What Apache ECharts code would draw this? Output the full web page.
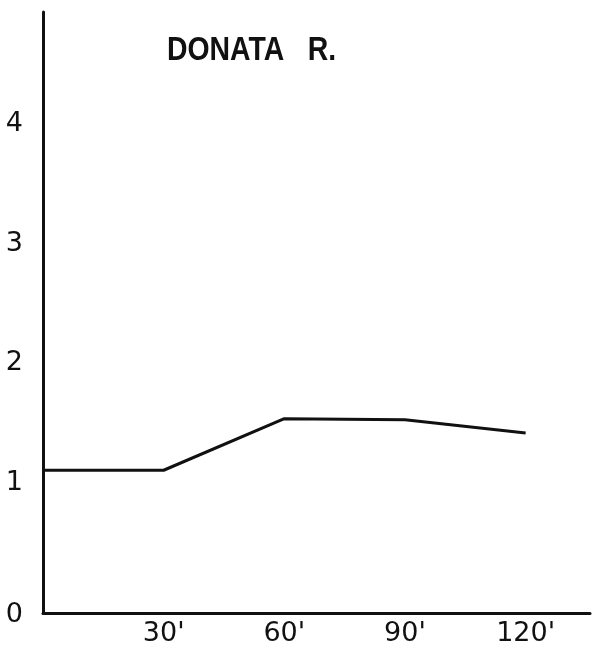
<!DOCTYPE html>
<html>
<head>
<meta charset="utf-8">
<script src="https://cdn.jsdelivr.net/npm/echarts@6/dist/echarts.min.js"></script>
<style>
  html, body { margin: 0; padding: 0; background: #fff; }
  #chart { width: 595px; height: 653px; }
</style>
</head>
<body>
<div id="chart"></div>
<script>
// time in minutes
const minutes = [0, 30, 60, 90, 120]
const values = [1.11, 1.11, 1.54, 1.53, 1.42]
const xTicks = [30, 60, 90, 120]
const yTicks = [0, 1, 2, 3, 4]

const chart = echarts.init(document.getElementById('chart'), null, { renderer: 'canvas' })

const ink = '#111'
const labelFont = 'DejaVu Sans, sans-serif'

chart.setOption({
  animation: false,
  backgroundColor: '#fff',
  graphic: [{
    type: 'text',
    x: 167,
    y: 34,
    scaleX: 0.86,
    style: {
      text: 'DONATA   R.',
      fill: ink,
      font: 'bold 33px Liberation Sans, Arial, sans-serif',
      textVerticalAlign: 'top'
    }
  }],
  grid: { left: 43, right: 5, top: 12, bottom: 40 },
  xAxis: {
    type: 'value',
    min: 0,
    max: 136,
    axisLine: { show: true, onZero: false, lineStyle: { color: ink, width: 3 } },
    axisTick: { show: false },
    splitLine: { show: false },
    axisLabel: {
      customValues: xTicks,
      formatter: v => v + "'",
      color: ink,
      fontFamily: labelFont,
      fontSize: 27,
      margin: 7
    }
  },
  yAxis: {
    type: 'value',
    min: -0.08,
    max: 4.93,
    axisLine: { show: true, lineStyle: { color: ink, width: 3 } },
    axisTick: { show: false },
    splitLine: { show: false },
    axisLabel: {
      customValues: yTicks,
      formatter: v => v === 0 ? '{z|0}' : String(v),
      color: ink,
      fontFamily: labelFont,
      fontSize: 27,
      margin: 20,
      rich: {
        z: { fontFamily: labelFont, fontSize: 27, color: ink, padding: [24, 0, 0, 0] }
      }
    }
  },
  series: [{
    type: 'line',
    data: minutes.map((m, i) => [m, values[i]]),
    showSymbol: false,
    lineStyle: { color: ink, width: 3 }
  }]
})
</script>
</body>
</html>
